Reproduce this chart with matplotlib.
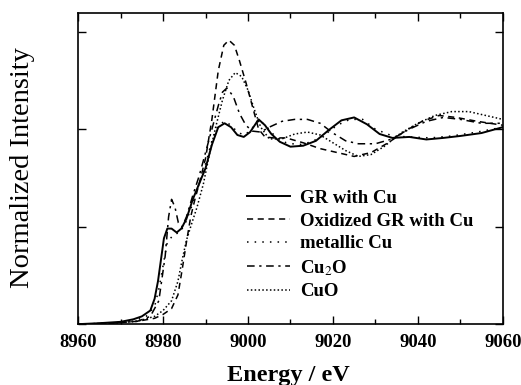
import matplotlib
matplotlib.use("Agg")
import matplotlib.pyplot as plt
from matplotlib.ticker import MultipleLocator

# ---------------------------------------------------------------------------
# Data
# ---------------------------------------------------------------------------

gr_e = [8960, 8965, 8970, 8973, 8975, 8977, 8978, 8978.8, 8979.5, 8980.2, 8981, 8982,
        8983.2, 8984.3, 8985.5, 8987, 8988.5, 8990, 8991.5, 8993, 8994.5, 8996, 8997.5,
        8999, 9000.5, 9002.5, 9004, 9005.5, 9007.5, 9010, 9013, 9016, 9019, 9022, 9025,
        9028, 9031, 9034, 9038, 9042, 9046, 9050, 9055, 9060]
gr_y = [0.0, 0.005, 0.012, 0.025, 0.04, 0.07, 0.13, 0.22, 0.33, 0.44, 0.49, 0.49,
        0.47, 0.49, 0.54, 0.64, 0.72, 0.80, 0.92, 1.01, 1.03, 1.01, 0.97,
        0.96, 0.985, 1.05, 1.02, 0.975, 0.935, 0.91, 0.915, 0.94, 0.995, 1.045, 1.06,
        1.025, 0.975, 0.955, 0.96, 0.947, 0.955, 0.965, 0.98, 1.01]

ox_e = [8960, 8968, 8974, 8978, 8980, 8982, 8983.5, 8984.5, 8985.5, 8986.5, 8987.5,
        8988.5, 8990, 8991.5, 8993, 8994.3, 8995.5, 8996.8, 8998, 8999.5, 9001, 9002.5,
        9004, 9006, 9009, 9013, 9017, 9021, 9025, 9029, 9033, 9037, 9041, 9045, 9049,
        9054, 9060]
ox_y = [0.0, 0.005, 0.015, 0.03, 0.05, 0.08, 0.15, 0.28, 0.42, 0.55, 0.64,
        0.72, 0.85, 1.05, 1.30, 1.43, 1.456, 1.43, 1.35, 1.24, 1.12, 1.0,
        0.96, 0.955, 0.955, 0.93, 0.90, 0.88, 0.86, 0.88, 0.93, 0.99, 1.04, 1.07, 1.06,
        1.04, 1.02]

cu_e = [8960, 8968, 8973, 8976, 8978, 8979, 8980, 8981, 8982.5, 8984, 8985.5, 8987,
        8988.5, 8990, 8991.5, 8993, 8994.5, 8996, 8997.5, 8999, 9000.5, 9002.5, 9004.5,
        9006.5, 9009, 9012, 9015, 9018, 9021, 9024, 9027, 9030, 9034, 9038, 9043, 9048,
        9054, 9060]
cu_y = [0.0, 0.005, 0.015, 0.04, 0.09, 0.18, 0.30, 0.42, 0.46, 0.47, 0.53, 0.62,
        0.72, 0.82, 0.94, 1.02, 1.04, 1.02, 0.985, 0.97, 0.99, 1.05, 1.01,
        0.96, 0.93, 0.92, 0.935, 0.97, 1.02, 1.05, 1.05, 1.0, 0.965, 0.96, 0.955, 0.965,
        0.985, 1.01]

cu2o_e = [8960, 8968, 8974, 8977, 8979, 8980.5, 8981.3, 8982, 8982.8, 8983.6, 8984.5,
          8985.5, 8987, 8988.5, 8990, 8991.5, 8993, 8994, 8995, 8996.5, 8998, 8999.5,
          9001, 9003, 9005, 9008, 9011, 9014, 9017, 9020, 9023, 9026, 9030, 9034, 9038,
          9042, 9046, 9050, 9055, 9060]
cu2o_y = [0.0, 0.005, 0.015, 0.04, 0.12, 0.35, 0.55, 0.64, 0.60, 0.52, 0.50,
          0.55, 0.66, 0.76, 0.88, 1.0, 1.12, 1.19, 1.21, 1.17, 1.08, 1.02,
          0.99, 0.985, 1.01, 1.04, 1.05, 1.05, 1.03, 0.98, 0.94, 0.925, 0.925, 0.95, 1.0,
          1.04, 1.06, 1.05, 1.03, 1.03]

cuo_e = [8960, 8968, 8974, 8978, 8980, 8982, 8983.5, 8984.5, 8985.5, 8986.8, 8988,
         8989.5, 8991, 8992.5, 8994, 8995.5, 8997, 8998.5, 9000, 9001.5, 9003, 9005,
         9008, 9011, 9014, 9017, 9020, 9023, 9026, 9029, 9032, 9036, 9040, 9044, 9048,
         9052, 9056, 9060]
cuo_y = [0.0, 0.005, 0.015, 0.04, 0.07, 0.12, 0.22, 0.33, 0.43, 0.52, 0.60,
         0.72, 0.88, 1.02, 1.15, 1.25, 1.29, 1.27, 1.20, 1.10, 1.01, 0.95,
         0.95, 0.975, 0.985, 0.97, 0.93, 0.89, 0.86, 0.87, 0.91, 0.98, 1.03, 1.07, 1.09,
         1.09, 1.07, 1.05]

labels = ["GR with Cu", "Oxidized GR with Cu", "metallic Cu", "Cu$_2$O", "CuO"]

# ---------------------------------------------------------------------------
# Plot
# ---------------------------------------------------------------------------

plt.rcParams["font.family"] = ["Liberation Serif", "DejaVu Serif"]
plt.rcParams["mathtext.fontset"] = "stix"

fig = plt.figure(figsize=(5.21, 3.85), dpi=100)
ax = fig.add_axes([0.150, 0.158, 0.815, 0.808])

ax.plot(gr_e, gr_y, color="black", lw=1.4, ls="-", label=labels[0])
ax.plot(ox_e, ox_y, color="black", lw=1.1, ls=(0, (4, 3)), label=labels[1])
ax.plot(cu_e, cu_y, color="black", lw=1.1, ls=(0, (1, 4)), label=labels[2])
ax.plot(cu2o_e, cu2o_y, color="black", lw=1.1, ls=(0, (5, 3, 1.5, 3)), label=labels[3])
ax.plot(cuo_e, cuo_y, color="black", lw=1.1, ls=(0, (1, 1.5)), label=labels[4])

ax.set_xlim(8960, 9060)
ax.set_ylim(0, 1.595)
ax.xaxis.set_major_locator(MultipleLocator(20))
ax.xaxis.set_minor_locator(MultipleLocator(10))
ax.yaxis.set_major_locator(MultipleLocator(0.5))
ax.tick_params(which="both", direction="in", top=True, right=True, width=1.0)
ax.tick_params(which="major", length=6, pad=7, labelsize=13.5)
ax.tick_params(which="minor", length=3.5)
ax.tick_params(axis="y", which="major", labelleft=False)
for lab in ax.get_xticklabels():
    lab.set_fontweight("bold")
for sp in ax.spines.values():
    sp.set_linewidth(1.2)

ax.set_xlabel("Energy / eV", fontsize=17.5, fontweight="bold", va="center")
ax.xaxis.set_label_coords(0.496, -0.164)
ax.set_ylabel("Normalized Intensity", fontsize=20.5, va="center")
ax.yaxis.set_label_coords(-0.132, 0.503)

leg = ax.legend(loc="upper left", bbox_to_anchor=(0.398, 0.432), frameon=False,
                handlelength=2.3, handletextpad=0.5, labelspacing=0.3,
                borderaxespad=0, borderpad=0,
                prop={"family": "Liberation Serif", "weight": "bold", "size": 13.5})

fig.savefig("out.png", dpi=100)
